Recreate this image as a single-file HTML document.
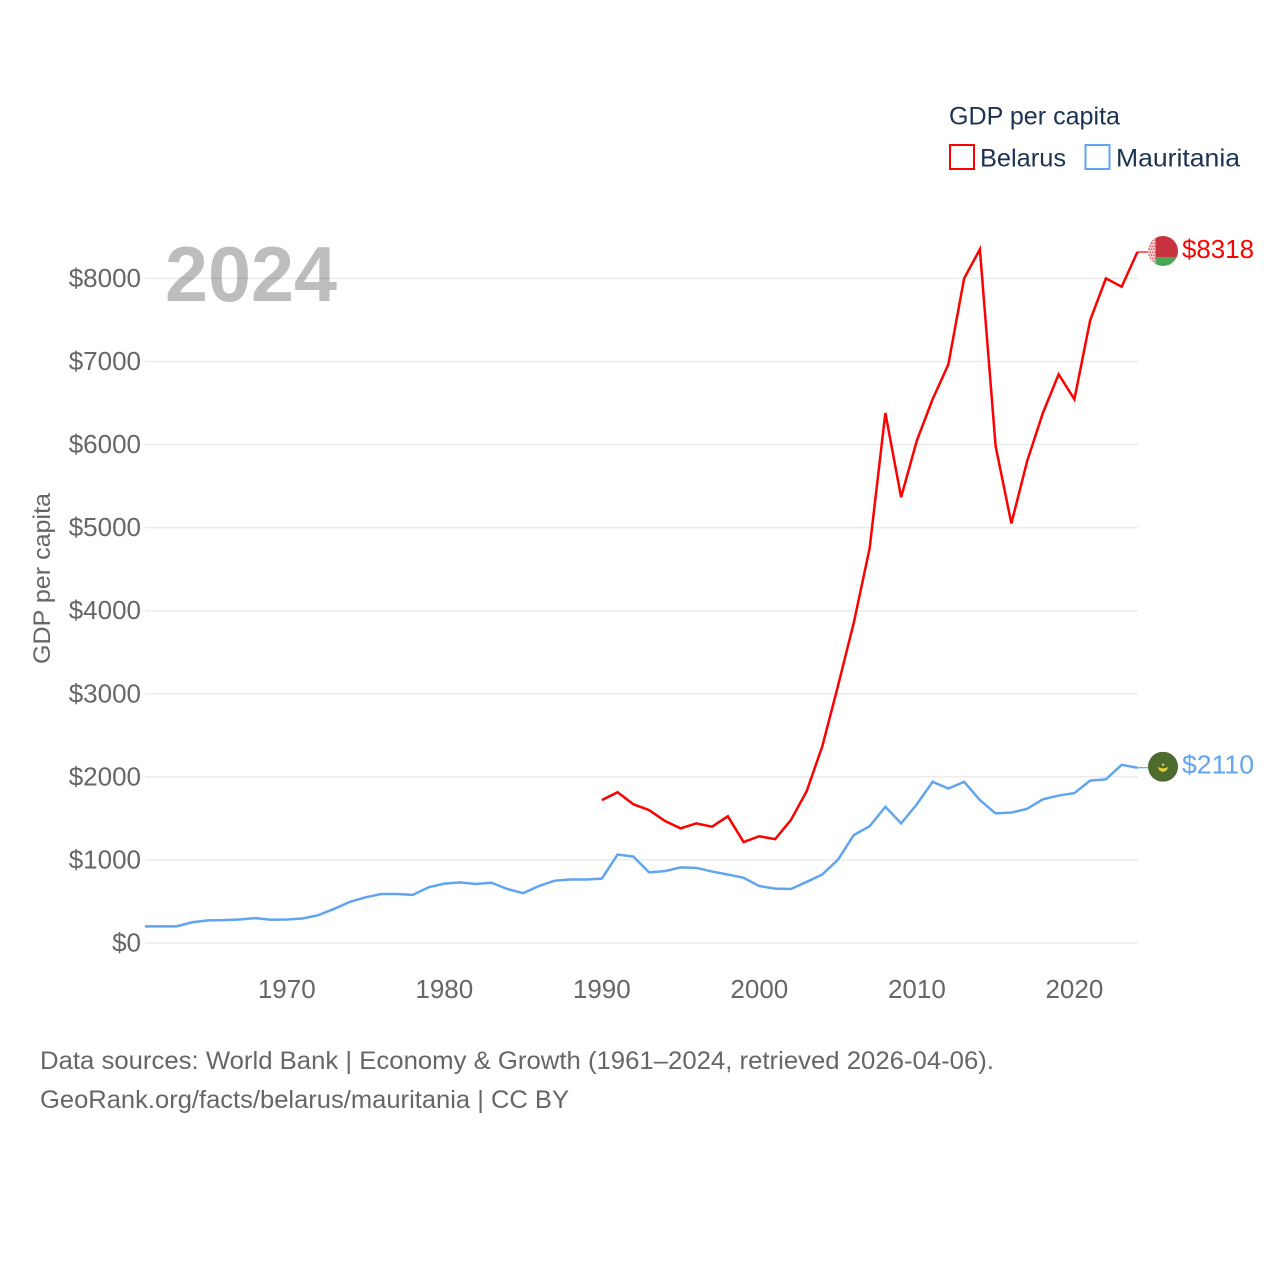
<!DOCTYPE html>
<html lang="en">
<head>
<meta charset="utf-8">
<title>GDP per capita: Belarus and Mauritania</title>
<style>
html,body{margin:0;padding:0;background:#fff;width:1280px;height:1280px;overflow:hidden}
svg{display:block}
text{font-family:"Liberation Sans",sans-serif}
</style>
</head>
<body>
<svg id="chart" xmlns="http://www.w3.org/2000/svg" width="1280" height="1280" viewBox="0 0 1280 1280">
  <defs>
    <clipPath id="flag-clip"><circle cx="0" cy="0" r="15"></circle></clipPath>
  </defs>
  <text x="165" y="301" font-size="78" font-weight="700" fill="#bdbdbd" textLength="172" lengthAdjust="spacingAndGlyphs">2024</text>
  <g id="grid"></g>
  <g id="y-ticks"></g>
  <g id="x-ticks"></g>
  <text transform="translate(50,578.5) rotate(-90)" text-anchor="middle" font-size="24.5" fill="#666666" textLength="171" lengthAdjust="spacingAndGlyphs">GDP per capita</text>
  <g id="series"></g>

  <g>
    <text x="949" y="124.5" font-size="25" fill="#1b3252" textLength="171" lengthAdjust="spacingAndGlyphs">GDP per capita</text>
    <g>
      <rect x="950" y="145" width="24" height="24" fill="#fff" stroke="#ff0000" stroke-width="2"></rect>
      <text x="980" y="166.5" font-size="25" fill="#1b3252" textLength="86" lengthAdjust="spacingAndGlyphs">Belarus</text>
    </g>
    <g>
      <rect x="1085.5" y="145" width="24" height="24" fill="#fff" stroke="#60a5ee" stroke-width="2"></rect>
      <text x="1116" y="166.5" font-size="25" fill="#1b3252" textLength="124" lengthAdjust="spacingAndGlyphs">Mauritania</text>
    </g>
  </g>

  <g>
    <text x="40" y="1069" font-size="25" fill="#666666" textLength="954" lengthAdjust="spacingAndGlyphs">Data sources: World Bank | Economy &amp; Growth (1961–2024, retrieved 2026-04-06).</text>
    <text x="40" y="1108" font-size="25" fill="#666666" textLength="529" lengthAdjust="spacingAndGlyphs">GeoRank.org/facts/belarus/mauritania | CC BY</text>
  </g>
</svg>
<script>
var yTickValues = [0, 1000, 2000, 3000, 4000, 5000, 6000, 7000, 8000];
var xTickYears = [1970, 1980, 1990, 2000, 2010, 2020];
var mauritaniaStartYear = 1961;
var mauritaniaValues = [200, 200, 200, 250, 272, 275, 283, 300, 280, 283, 295, 335, 410, 495, 550, 590, 590, 580, 670, 715, 730, 710, 725, 650, 600, 685, 750, 765, 765, 775, 1065, 1040, 850, 865, 910, 905, 860, 825, 785, 685, 655, 650, 735, 825, 1005, 1300, 1405, 1640, 1440, 1670, 1940, 1860, 1940, 1720, 1560, 1570, 1615, 1730, 1775, 1805, 1955, 1970, 2145, 2110];
var belarusStartYear = 1990;
var belarusValues = [1720, 1815, 1670, 1600, 1470, 1380, 1440, 1400, 1525, 1215, 1285, 1250, 1480, 1825, 2370, 3100, 3860, 4750, 6380, 5365, 6050, 6545, 6965, 8000, 8350, 5980, 5050, 5800, 6380, 6845, 6545, 7495, 8000, 7900, 8318];

var NS = 'http://www.w3.org/2000/svg';
var X0 = 145, X1 = 1137.4, YEAR0 = 1961, YEAR1 = 2024;
var Y0 = 943, Y8000 = 278.4;
function xScale(year) { return X0 + (year - YEAR0) * (X1 - X0) / (YEAR1 - YEAR0); }
function yScale(value) { return Y0 + value * (Y8000 - Y0) / 8000; }
function make(tag, attrs, parent) {
  var el = document.createElementNS(NS, tag);
  for (var k in attrs) el.setAttribute(k, attrs[k]);
  parent.appendChild(el);
  return el;
}

var gridGroup = document.getElementById('grid');
var yTickGroup = document.getElementById('y-ticks');
var xTickGroup = document.getElementById('x-ticks');
var seriesGroup = document.getElementById('series');

yTickValues.forEach(function (v) {
  var line = make('line', {x1: X0, x2: 1138, y1: yScale(v), y2: yScale(v), stroke: '#000', 'stroke-opacity': 0.08, 'stroke-width': 1.5}, gridGroup);
  
  
  var label = make('text', {x: 141, y: yScale(v) + 8.5, 'text-anchor': 'end', 'font-size': 26, fill: '#666666'}, yTickGroup);
  
  
  label.textContent = '$' + v;
});

xTickYears.forEach(function (yr) {
  var label = make('text', {x: xScale(yr), y: 998, 'text-anchor': 'middle', 'font-size': 26, fill: '#666666'}, xTickGroup);
  
  
  label.textContent = String(yr);
});

function seriesPoints(values, startYear) {
  return values.map(function (v, i) {
    return xScale(startYear + i).toFixed(2) + ',' + yScale(v).toFixed(2);
  }).join(' ');
}

function drawSeries(values, startYear, color, key, drawFlag) {
  var line = make('polyline', {points: seriesPoints(values, startYear), fill: 'none', stroke: color, 'stroke-width': 2.5, 'stroke-linejoin': 'miter'}, seriesGroup);
  
  

  var last = values[values.length - 1];
  var endY = yScale(last);
  var leader = make('line', {x1: X1, x2: 1148, y1: endY, y2: endY, stroke: color, 'stroke-width': 1.2}, seriesGroup);
  
  

  var flag = make('g', {transform: 'translate(1163,' + (endY - 1).toFixed(2) + ')'}, seriesGroup);
  
  
  drawFlag(flag);

  var label = make('text', {x: 1182, y: endY + 6, 'font-size': 25.5, fill: color, textLength: 72, lengthAdjust: 'spacingAndGlyphs'}, seriesGroup);
  
  
  label.textContent = '$' + last;
}

function belarusFlag(g) {
  var c = make('g', {'clip-path': 'url(#flag-clip)'}, g);
  make('rect', {x: -15, y: -15, width: 30, height: 21, fill: '#c8323e'}, c);
  make('rect', {x: -15, y: 6, width: 30, height: 9, fill: '#4aa657'}, c);
  make('rect', {x: -15, y: -15, width: 7.5, height: 30, fill: '#f2d0d0'}, c);
  for (var row = 0; row < 10; row++) {
    for (var col = 0; col < 3; col++) {
      make('rect', {x: -14.5 + col * 2.4 + (row % 2) * 1.2, y: -14.5 + row * 3, width: 1.2, height: 1.5, fill: '#cf5a62'}, c);
    }
  }
}

function mauritaniaFlag(g) {
  var c = make('g', {'clip-path': 'url(#flag-clip)'}, g);
  make('rect', {x: -15, y: -15, width: 30, height: 30, fill: '#4c6b2c'}, c);
  make('path', {d: 'M-5,0 A5,5 0 0 0 5,0 A6,3.6 0 0 1 -5,0 Z', fill: '#e6cf3a'}, c);
  make('circle', {cx: 0, cy: -2, r: 1.2, fill: '#e6cf3a'}, c);
}

drawSeries(mauritaniaValues, mauritaniaStartYear, '#60a5ee', 'mauritania', mauritaniaFlag);
drawSeries(belarusValues, belarusStartYear, '#ff0000', 'belarus', belarusFlag);
</script>
</body>
</html>
